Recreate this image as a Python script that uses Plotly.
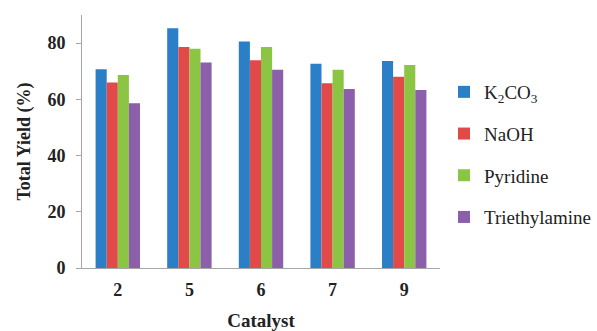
import plotly.graph_objects as go

catalysts = ["2", "5", "6", "7", "9"]
k2co3 = [70.7, 85.3, 80.6, 72.7, 73.6]
naoh = [66.0, 78.6, 73.9, 65.7, 68.0]
pyridine = [68.7, 78.0, 78.6, 70.5, 72.2]
triethylamine = [58.6, 73.1, 70.5, 63.7, 63.3]

series = [
    ("K<sub>2</sub>CO<sub>3</sub>", k2co3, "#2a7fc7"),
    ("NaOH", naoh, "#e24a4a"),
    ("Pyridine", pyridine, "#8cc443"),
    ("Triethylamine", triethylamine, "#8b5fa9"),
]

serif = "Liberation Serif"

fig = go.Figure()
for i, (name, vals, color) in enumerate(series):
    fig.add_trace(go.Bar(
        x=catalysts, y=vals, name=name, legendgroup=f"g{i}",
        marker=dict(color=color, line=dict(width=0)),
    ))

fig.update_layout(
    width=597, height=331,
    margin=dict(l=82, r=157, t=15, b=63),
    paper_bgcolor="white", plot_bgcolor="white",
    barmode="group", bargap=0.38, bargroupgap=0,
    showlegend=True,
    legend=dict(
        xref="container", yref="container",
        x=444 / 597, y=1 - 73 / 331, xanchor="left", yanchor="top",
        font=dict(family=serif, size=19, color="#222"),
        tracegroupgap=14, bgcolor="rgba(0,0,0,0)",
    ),
    font=dict(family=serif, color="#222"),
)

fig.update_xaxes(
    type="category", automargin=False,
    showline=True, linecolor="#a6a6a6", linewidth=1,
    ticks="", showgrid=False,
    ticklabelstandoff=5,
    tickfont=dict(family=serif, size=18, color="#222", weight="bold"),
    title=dict(text="<b>Catalyst</b>", font=dict(family=serif, size=19, color="#222"), standoff=20),
)
fig.update_yaxes(
    range=[0, 90], tickvals=[0, 20, 40, 60, 80], automargin=False,
    showline=True, linecolor="#a6a6a6", linewidth=1,
    ticks="outside", ticklen=5, tickcolor="#a6a6a6",
    showgrid=False, zeroline=False,
    ticklabelstandoff=7,
    tickfont=dict(family=serif, size=18, color="#222", weight="bold"),
    title=dict(text="<b>Total Yield (%)</b>", font=dict(family=serif, size=18, color="#222"), standoff=12),
)

fig.write_html("out.html")
